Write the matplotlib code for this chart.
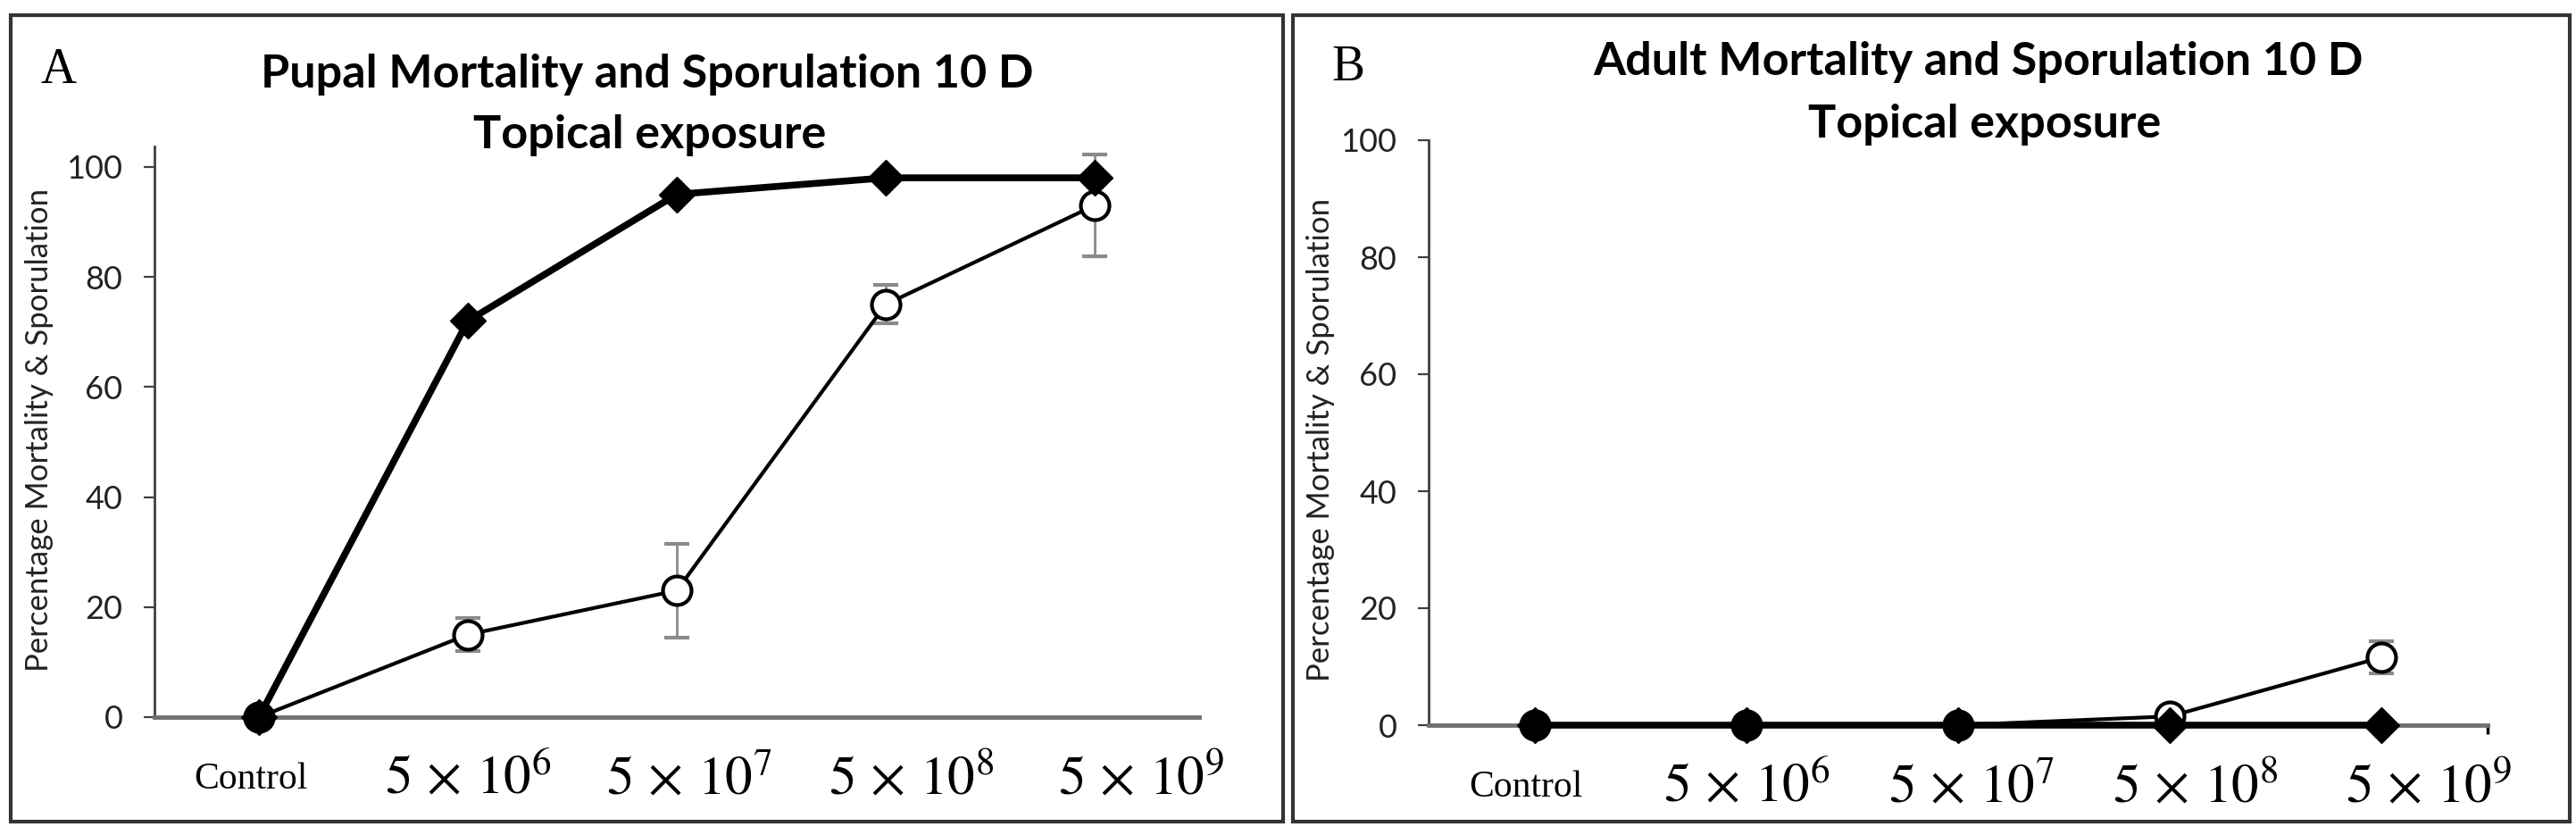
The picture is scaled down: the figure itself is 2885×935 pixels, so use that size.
import numpy as np
import matplotlib
matplotlib.use("Agg")
from matplotlib import pyplot as plt
from matplotlib.patches import Rectangle

plt.rcParams['mathtext.fontset'] = 'stix'

W, H = 2885, 935

doses = ["Control", r"$5\,\times\,10^{6}$", r"$5\,\times\,10^{7}$",
         r"$5\,\times\,10^{8}$", r"$5\,\times\,10^{9}$"]

# panel A - pupae
pupa_mort = [0, 72, 95, 98, 98]
pupa_mort_err = [0, 0, 0, 0, 0]
pupa_spor = [0, 15, 23, 75, 93]
pupa_spor_err = [0, 3, 8.5, 3.5, 9.2]

# panel B - adults
adult_mort = [0, 0, 0, 0, 0]
adult_mort_err = [0, 0, 0, 0, 0]
adult_spor = [0, 0, 0, 1.5, 11.6]
adult_spor_err = [0, 0, 0, 1, 2.8]

yticks = [0, 20, 40, 60, 80, 100]


def fx(x):
    return x / W


def fy(y):
    return 1 - y / H


def draw_panel(ax, mort, mort_err, spor, spor_err, ytop):
    x = np.arange(len(doses))
    ax.errorbar(x, spor, yerr=spor_err, color='black', lw=3, marker='o', ms=23,
                mfc='white', mec='black', mew=3, ecolor='#8a8a8a', elinewidth=2,
                capsize=10, capthick=2, clip_on=False, zorder=3)
    ax.errorbar(x, mort, yerr=mort_err, color='black', lw=5.5, marker='D', ms=20.5,
                mfc='black', mec='black', ecolor='#8a8a8a', elinewidth=2,
                capsize=10, capthick=2, clip_on=False, zorder=4)
    ax.set_xlim(-0.5, 4.5)
    ax.set_ylim(0, ytop)
    ax.spines['top'].set_visible(False)
    ax.spines['right'].set_visible(False)
    ax.spines['left'].set_color('#404040')
    ax.spines['left'].set_linewidth(2)
    ax.spines['bottom'].set_color('#707070')
    ax.spines['bottom'].set_linewidth(3.5)
    ax.set_yticks(yticks)
    ax.tick_params(axis='y', direction='out', length=8.6, width=1.6,
                   color='#404040', pad=17)
    for lbl in ax.get_yticklabels():
        lbl.set_fontfamily('Lato')
        lbl.set_fontsize(26)
        lbl.set_color('#222222')
    # category labels sit a bit off the points, as in the original figure
    ax.set_xticks([-0.04, 1.0, 2.06, 3.12, 4.22], doses)
    ax.tick_params(axis='x', length=0, pad=50)
    for i, lbl in enumerate(ax.get_xticklabels()):
        lbl.set_verticalalignment('center')
        if i == 0:
            lbl.set_fontfamily('Liberation Serif')
            lbl.set_fontsize(30)
        else:
            lbl.set_fontsize(44)
    ax.set_ylabel("Percentage Mortality & Sporulation", fontfamily='Lato',
                  fontsize=25, color='#222222')


fig = plt.figure(figsize=(W / 100, H / 100), dpi=100)

axA = fig.add_axes([fx(173), fy(803), fx(1343) - fx(173), fy(164) - fy(803)])
draw_panel(axA, pupa_mort, pupa_mort_err, pupa_spor, pupa_spor_err, 103.7)
axA.yaxis.set_label_coords((60 - 173) / (1343 - 173), (803 - 481) / (803 - 164))

axB = fig.add_axes([fx(1600), fy(812), fx(2786) - fx(1600), fy(157) - fy(812)])
draw_panel(axB, adult_mort, adult_mort_err, adult_spor, adult_spor_err, 100)
axB.yaxis.set_label_coords((1495 - 1600) / (2786 - 1600), (812 - 492) / (812 - 157))
axB.set_xticks([4.5], minor=True)
axB.tick_params(axis='x', which='minor', direction='out', length=7, width=2.5, color='black')

# panel frames
for x0, x1 in [(12, 1437), (1448, 2878)]:
    fig.patches.append(Rectangle((fx(x0), fy(920)), fx(x1) - fx(x0), fy(17) - fy(920),
                                 transform=fig.transFigure, fill=False,
                                 edgecolor='#333333', lw=3))

# titles and panel letters
tkw = dict(ha='center', va='baseline', fontfamily='Lato', fontweight='bold', fontsize=37.5)
fig.text(fx(725), fy(98), "Pupal Mortality and Sporulation 10 D", **tkw)
fig.text(fx(728), fy(166), "Topical exposure", **tkw)
fig.text(fx(2216), fy(84), "Adult Mortality and Sporulation 10 D", **tkw)
fig.text(fx(2223), fy(154), "Topical exposure", **tkw)
fig.text(fx(66), fy(93), "A", ha='center', va='baseline', fontfamily='Liberation Serif', fontsize=40)
fig.text(fx(1510), fy(90), "B", ha='center', va='baseline', fontfamily='Liberation Serif', fontsize=40)

fig.savefig("out.png", dpi=100)
